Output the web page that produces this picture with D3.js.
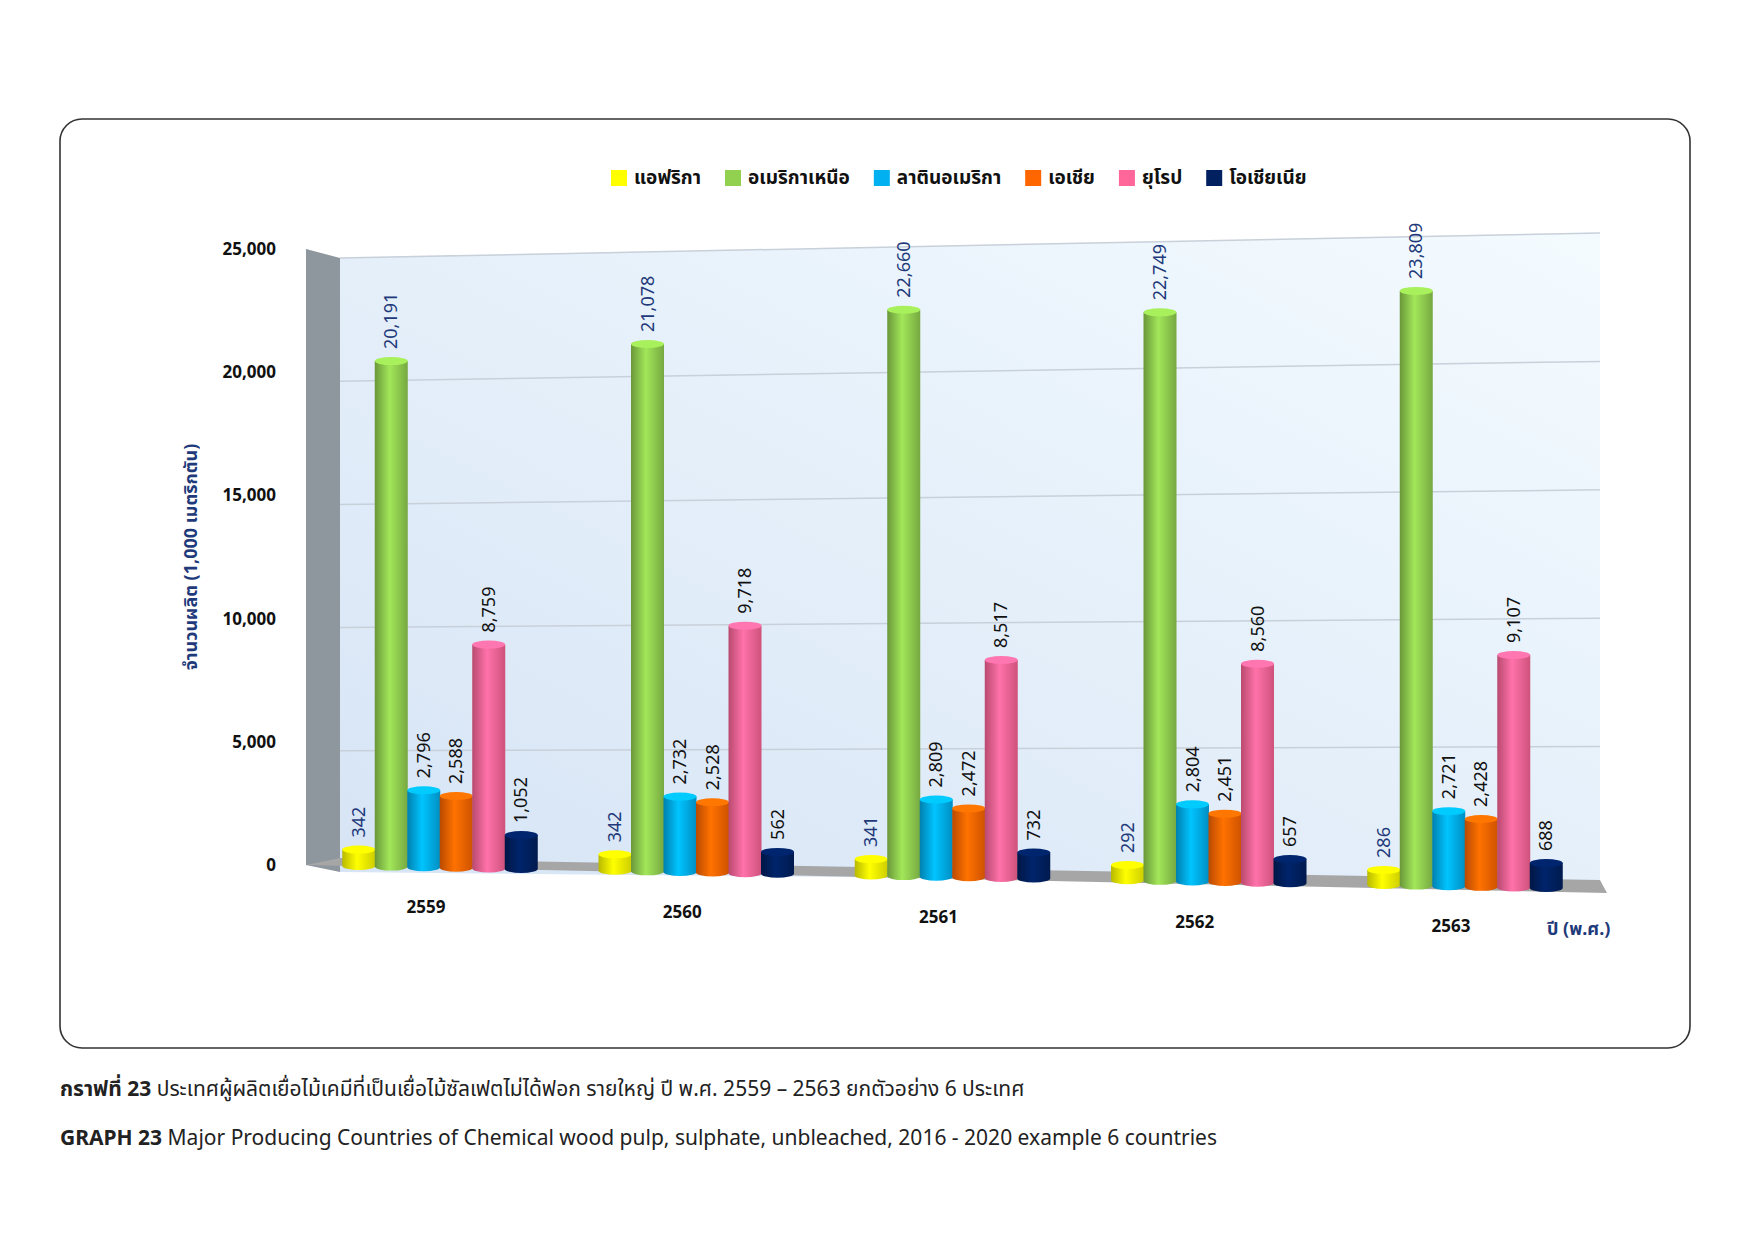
<!DOCTYPE html>
<html><head><meta charset="utf-8">
<script src="https://cdn.jsdelivr.net/npm/d3@7"></script>
<style>body{margin:0;background:#fff;font-family:"Noto Sans","Noto Sans Thai",sans-serif}</style>
</head><body>
<svg id="c" width="1755" height="1241"></svg>
<script>
const years = ["2559", "2560", "2561", "2562", "2563"];
const regions = ["แอฟริกา", "อเมริกาเหนือ", "ลาตินอเมริกา", "เอเชีย", "ยุโรป", "โอเชียเนีย"];
const colors = ["#ffff00", "#92d050", "#00b0f0", "#ff6600", "#ff6699", "#002060"];
const africa = [342, 342, 341, 292, 286];
const northAmerica = [20191, 21078, 22660, 22749, 23809];
const latinAmerica = [2796, 2732, 2809, 2804, 2721];
const asia = [2588, 2528, 2472, 2451, 2428];
const europe = [8759, 9718, 8517, 8560, 9107];
const oceania = [1052, 562, 732, 657, 688];
const yTicks = [0, 5000, 10000, 15000, 20000, 25000];
const series = [africa, northAmerica, latinAmerica, asia, europe, oceania];
const labelColors = ["#1f3a7a", "#1f3a7a", "#111", "#111", "#111", "#111"];

const svg = d3.select("#c");
const defs = svg.append("defs");

// frame
svg.append("rect").attr("x", 60).attr("y", 119).attr("width", 1630).attr("height", 929)
  .attr("rx", 22).attr("fill", "#fff").attr("stroke", "#333").attr("stroke-width", 1.6);

const y = d3.scaleLinear().domain([0, 25000]).range([865, 249]);
const x = d3.scalePoint().domain(years).range([440, 1465]);
const slope = 24 / 1294; // floor drops to the right
const base = px => 865 + (px - 306) * slope;

// back wall gradient
const wg = defs.append("linearGradient").attr("id", "wall").attr("x1", 0).attr("y1", 1).attr("x2", 1).attr("y2", 0);
wg.append("stop").attr("offset", 0).attr("stop-color", "#d6e4f5");
wg.append("stop").attr("offset", 1).attr("stop-color", "#f4fbff");
svg.append("path").attr("d", "M340,258 L1600,233 L1600,885 L340,872 Z").attr("fill", "url(#wall)");
// left wall
svg.append("path").attr("d", "M306,249 L340,258 L340,872 L306,865 Z").attr("fill", "#8e969e");
// floor
svg.append("path").attr("d", "M306,865 L340,858 L1600,880 L1607,893 Z").attr("fill", "#a6a6a6");

// gridlines on back wall
const wallDrop = v => (y(v) - 249) / 616;
svg.append("g").selectAll("line").data(yTicks.slice(1)).enter().append("line")
  .attr("x1", 340).attr("x2", 1600)
  .attr("y1", d => y(d) + 9)
  .attr("y2", d => y(d) - 16 + wallDrop(d) * 26)
  .attr("stroke", "#c8d0da").attr("stroke-width", 1.5);

// y axis labels
svg.append("g").selectAll("text").data(yTicks).enter().append("text")
  .attr("x", 276).attr("y", d => y(d) + 6).attr("text-anchor", "end")
  .attr("font-size", 17).attr("font-weight", "bold").attr("fill", "#111")
  .text(d => d3.format(",")(d));

svg.append("text").attr("transform", "translate(197,557) rotate(-90)").attr("text-anchor", "middle")
  .attr("font-size", 18).attr("font-weight", "bold").attr("fill", "#1f3a7a")
  .text("จำนวนผลิต (1,000  เมตริกตัน)");

// gradients for cylinders
colors.forEach((c, i) => {
  const g = defs.append("linearGradient").attr("id", "g" + i);
  g.append("stop").attr("offset", 0).attr("stop-color", d3.color(c).darker(0.9));
  g.append("stop").attr("offset", 0.45).attr("stop-color", d3.color(c).brighter(0.3));
  g.append("stop").attr("offset", 1).attr("stop-color", d3.color(c).darker(0.6));
});

const bw = 33, step = 32.5;
const bars = [];
years.forEach((yr, gi) => {
  series.forEach((s, si) => {
    const cx = x(yr) + (si - 2.5) * step;
    bars.push({ cx, v: s[gi], si });
  });
});
const b = svg.append("g").selectAll("g").data(bars).enter().append("g");
const ry = 4;
b.append("path").attr("fill", d => `url(#g${d.si})`)
  .attr("d", d => {
    const yb = base(d.cx), yt = yb - (865 - y(d.v)) - 2 * ry;
    const l = d.cx - bw / 2, r = d.cx + bw / 2;
    return `M${l},${yt} L${l},${yb} A${bw / 2},${ry} 0 0 0 ${r},${yb} L${r},${yt} Z`;
  });
b.append("ellipse").attr("cx", d => d.cx)
  .attr("cy", d => base(d.cx) - (865 - y(d.v)) - 2 * ry).attr("rx", bw / 2).attr("ry", ry)
  .attr("fill", d => d3.color(colors[d.si]).brighter(0.4));
b.append("text").attr("transform", d => {
    const t = base(d.cx) - (865 - y(d.v)) - 2 * ry - 12;
    return `translate(${d.cx + 6},${t}) rotate(-90)`;
  })
  .attr("font-size", 18).attr("fill", d => labelColors[d.si])
  .text(d => d3.format(",")(d.v));

// x labels
svg.append("g").selectAll("text").data(years).enter().append("text")
  .attr("x", d => x(d) - 14).attr("y", d => base(x(d)) + 46).attr("text-anchor", "middle")
  .attr("font-size", 17).attr("font-weight", "bold").attr("fill", "#111").text(d => d);
svg.append("text").attr("x", 1547).attr("y", 935).attr("font-size", 18).attr("font-weight", "bold")
  .attr("fill", "#1f3a7a").text("ปี (พ.ศ.)");

// legend
let lx = 611;
const lg = svg.append("g");
regions.forEach((r, i) => {
  lg.append("rect").attr("x", lx).attr("y", 170).attr("width", 16).attr("height", 16).attr("fill", colors[i]);
  const t = lg.append("text").attr("x", lx + 23).attr("y", 184).attr("font-size", 19).attr("font-weight", "bold")
    .attr("fill", "#111").text(r);
  lx += 23 + t.node().getComputedTextLength() + 24;
});

// captions
const c1 = svg.append("text").attr("x", 60).attr("y", 1096).attr("font-size", 21).attr("fill", "#222");
c1.append("tspan").attr("font-weight", "bold").text("กราฟที่ 23 ");
c1.append("tspan").text("ประเทศผู้ผลิตเยื่อไม้เคมีที่เป็นเยื่อไม้ซัลเฟตไม่ได้ฟอก รายใหญ่ ปี พ.ศ. 2559 – 2563 ยกตัวอย่าง 6 ประเทศ");
const c2 = svg.append("text").attr("x", 60).attr("y", 1145).attr("font-size", 21).attr("fill", "#222");
c2.append("tspan").attr("font-weight", "bold").text("GRAPH 23 ");
c2.append("tspan").text("Major Producing Countries of  Chemical wood pulp, sulphate, unbleached, 2016 - 2020  example 6 countries");
</script>
</body></html>
